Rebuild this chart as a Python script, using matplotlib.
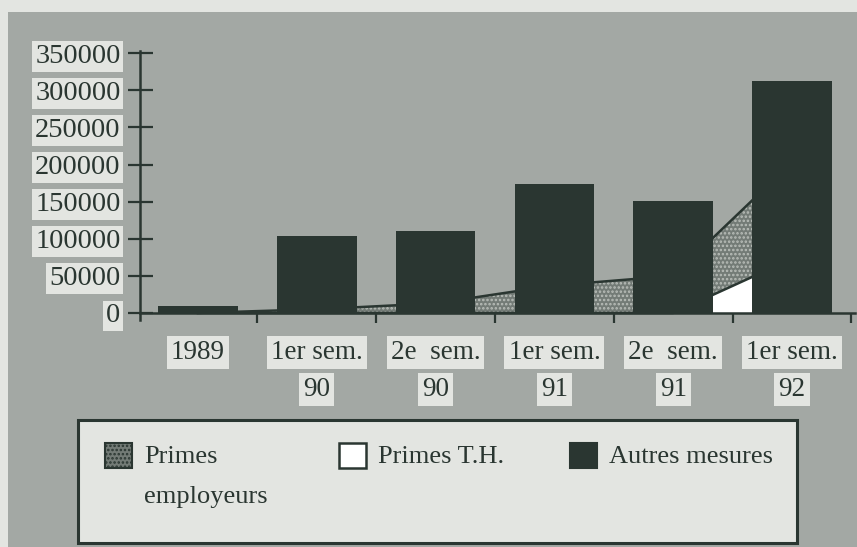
import numpy as np
import matplotlib.pyplot as plt
from matplotlib.patches import Rectangle

plt.rcParams["font.family"] = ["Liberation Serif", "DejaVu Serif"]
plt.rcParams["hatch.linewidth"] = 1.2

# values
categories = ["1989", "1er sem.\n90", "2e  sem.\n90", "1er sem.\n91", "2e  sem.\n91", "1er sem.\n92"]
primes_th = [0, 0, 0, 0, 0, 73000]
primes_employeurs = [0, 5000, 13000, 37000, 50000, 130000]
autres_mesures = [9500, 104000, 110000, 174000, 151000, 313000]
yticks = [0, 50000, 100000, 150000, 200000, 250000, 300000, 350000]
legend_labels = ["Primes\nemployeurs", "Primes T.H.", "Autres mesures"]

DARK = "#2a3631"
LIGHT = "#e3e5e1"
HALFTONE = "#a3a8a4"
STIPPLE = "#737b76"
STIPPLE_DOT = "#b9beb9"

W, H = 857, 547


def fig_box(x0, y0, x1, y1):
    # pixel box (top-left origin) -> figure fraction rectangle args
    return (x0 / W, 1 - y1 / H), (x1 - x0) / W, (y1 - y0) / H


fig = plt.figure(figsize=(W / 100, H / 100), dpi=100, facecolor=LIGHT)
# halftone background of the printed page
xy, w, h = fig_box(8, 12, W, H)
fig.patches.append(Rectangle(xy, w, h, transform=fig.transFigure,
                             facecolor=HALFTONE, edgecolor="none", zorder=-10))

ax = fig.add_axes([140 / W, (H - 320) / H, (855 - 140) / W, 269 / H])
ax.set_facecolor("none")

x = np.arange(len(categories))
th = np.array(primes_th)
emp = np.array(primes_employeurs)
total = th + emp

ax.fill_between(x, 0, th, facecolor="white", edgecolor="none", zorder=1)
ax.fill_between(x, th, total, facecolor=STIPPLE, edgecolor=STIPPLE_DOT, hatch="....",
                linewidth=0, zorder=1)
ax.plot(x, th, color=DARK, lw=1.8, zorder=2)
ax.plot(x, total, color=DARK, lw=1.8, zorder=2)
ax.bar(x, autres_mesures, width=0.67, color=DARK, zorder=3)

ax.set_xlim(-0.488, 5.53)
ax.set_ylim(-9500, 353000)

for s in ["top", "right"]:
    ax.spines[s].set_visible(False)
ax.spines["bottom"].set_position(("data", 0))
for s in ["left", "bottom"]:
    ax.spines[s].set_color(DARK)
    ax.spines[s].set_linewidth(1.8)
    ax.spines[s].set_zorder(4)

ax.set_yticks(yticks)
ax.set_yticklabels([str(v) for v in yticks])
ax.tick_params(axis="y", direction="inout", length=18, width=1.6, color=DARK,
               labelsize=20.5, labelcolor=DARK, pad=5)
for lbl in ax.get_yticklabels():
    lbl.set_bbox(dict(boxstyle="square,pad=0.1", facecolor=LIGHT, edgecolor="none"))

ax.set_xticks(x[:-1] + 0.5)
ax.set_xticks([5.5], minor=True)
ax.set_xticklabels([])
ax.tick_params(axis="x", which="both", direction="out", length=7, width=1.6, color=DARK)

# two-line category labels, each line in its own light box
for i, cat in enumerate(categories):
    for j, line in enumerate(cat.split("\n")):
        ax.annotate(line, xy=(i, 0), xycoords="data", xytext=(0, -28.5 - 26.5 * j),
                    textcoords="offset points", ha="center", va="center",
                    fontsize=19.5, color=DARK, annotation_clip=False,
                    bbox=dict(boxstyle="square,pad=0.15", facecolor=LIGHT, edgecolor="none"))

# legend: framed box with the three keys, drawn by hand to keep the
# two-line label aligned like the original
xy, w, h = fig_box(78, 420, 797, 543)
fig.patches.append(Rectangle(xy, w, h, transform=fig.transFigure,
                             facecolor=LIGHT, edgecolor=DARK, linewidth=2.2, zorder=1))
keys = [
    (105, dict(facecolor=STIPPLE, edgecolor=DARK, hatch="....", lw=1.5)),
    (339, dict(facecolor="white", edgecolor=DARK, lw=1.8)),
    (570, dict(facecolor=DARK, edgecolor=DARK, lw=1.5)),
]
for (kx, style), label in zip(keys, legend_labels):
    xy, w, h = fig_box(kx, 443, kx + 27, 468)
    fig.patches.append(Rectangle(xy, w, h, transform=fig.transFigure, zorder=2, **style))
    fig.text((kx + 39) / W, 1 - 446 / H, label, fontsize=19, color=DARK,
             ha="left", va="top", linespacing=2.05, zorder=3)

fig.savefig("out.png", dpi=100, facecolor=LIGHT)
